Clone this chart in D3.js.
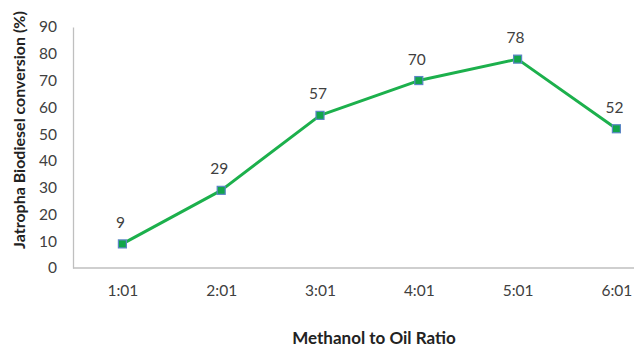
<!DOCTYPE html>
<html>
<head>
<meta charset="utf-8">
<script src="https://cdn.jsdelivr.net/npm/d3@7"></script>
<style>
  html, body { margin: 0; padding: 0; background: #fff; }
  svg { display: block; font-family: Lato, "Open Sans", sans-serif; }
</style>
</head>
<body>
<svg id="chart" width="634" height="349"></svg>
<script>
// Methanol-to-oil ratios and the biodiesel conversion reached at each
const ratios = ["1:01", "2:01", "3:01", "4:01", "5:01", "6:01"];
const conversion = [9, 29, 57, 70, 78, 52];
const yTicks = [0, 10, 20, 30, 40, 50, 60, 70, 80, 90];

const svg = d3.select("#chart");
const W = 634, H = 349;
const plotLeft = 73, plotTop = 27, plotBottom = 268;
const step = 98.8;

const x = d3.scalePoint()
  .domain(ratios)
  .range([plotLeft + step / 2, plotLeft + step / 2 + step * (ratios.length - 1)]);
const y = d3.scaleLinear().domain([0, 90]).range([plotBottom, plotTop]);

const axisColor = "#bfbfbf";
const textColor = "#404040";
const fontSize = 15.5;

// Y axis
const yAxis = svg.append("g")
  .attr("transform", `translate(${plotLeft},0)`)
  .call(d3.axisLeft(y).tickValues(yTicks).tickSize(0).tickPadding(16));
yAxis.attr("font-family", null);
yAxis.select(".domain").attr("stroke", axisColor).attr("stroke-width", 1.3);
yAxis.selectAll("text").attr("fill", textColor).attr("font-size", fontSize);

// X axis
const xAxis = svg.append("g")
  .attr("transform", `translate(0,${plotBottom})`)
  .call(d3.axisBottom(x).tickSize(0).tickPadding(17));
xAxis.attr("font-family", null);
xAxis.select(".domain").remove();
xAxis.append("line")
  .attr("x1", plotLeft).attr("x2", W)
  .attr("stroke", axisColor).attr("stroke-width", 1.3);
xAxis.selectAll("text").attr("fill", textColor).attr("font-size", fontSize);

// Series line
const pts = ratios.map((r, i) => ({ r, v: conversion[i] }));
svg.append("path")
  .datum(pts)
  .attr("fill", "none")
  .attr("stroke", "#1cb04c")
  .attr("stroke-width", 3)
  .attr("stroke-linejoin", "round")
  .attr("d", d3.line().x(d => x(d.r)).y(d => y(d.v)));

// Square markers
const ms = 8;
svg.selectAll("rect.marker")
  .data(pts)
  .join("rect")
  .attr("class", "marker")
  .attr("x", d => x(d.r) - ms / 2)
  .attr("y", d => y(d.v) - ms / 2)
  .attr("width", ms).attr("height", ms)
  .attr("fill", "#12a54a")
  .attr("stroke", "#5b86c5")
  .attr("stroke-width", 1.2);

// Value labels
svg.selectAll("text.val")
  .data(pts)
  .join("text")
  .attr("class", "val")
  .attr("x", d => x(d.r) - 2)
  .attr("y", d => y(d.v) - 16)
  .attr("text-anchor", "middle")
  .attr("fill", textColor)
  .attr("font-size", fontSize)
  .text(d => d.v);

// Axis titles
svg.append("text")
  .attr("transform", `translate(25,130) rotate(-90)`)
  .attr("text-anchor", "middle")
  .attr("font-weight", "bold")
  .attr("font-size", 16)
  .attr("fill", "#222")
  .text("Jatropha Biodiesel conversion (%)");

svg.append("text")
  .attr("x", 374)
  .attr("y", 344)
  .attr("text-anchor", "middle")
  .attr("font-weight", "bold")
  .attr("font-size", 17)
  .attr("fill", "#222")
  .text("Methanol to Oil Ratio");
</script>
</body>
</html>
